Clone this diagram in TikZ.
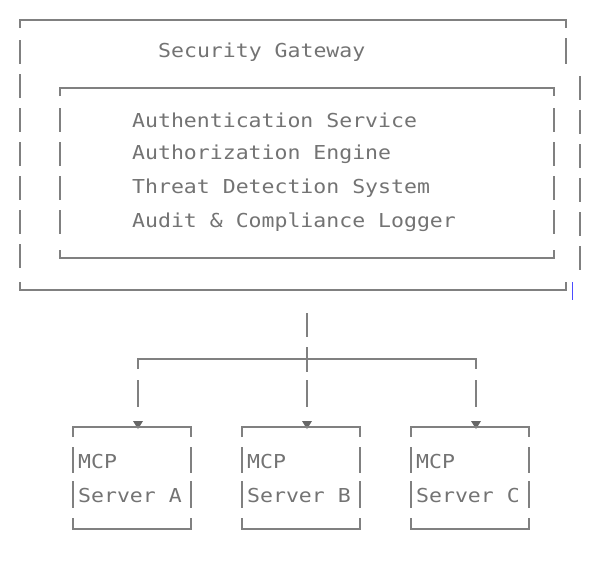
\documentclass[tikz,border=0pt]{standalone}
\usepackage{fontspec}
\setmonofont[FakeStretch=1.12]{DejaVu Sans Mono}
\begin{document}
\begin{tikzpicture}[x=1pt,y=-1pt,
  ln/.style={draw=black!50,line width=1.3pt},
  vd/.style={ln,dash pattern=on 24pt off 10pt,dash phase=-4pt},
  tx/.style={text=black!55,font=\ttfamily\fontsize{19.2}{22}\selectfont,anchor=west,inner sep=0pt},
  tip/.style={fill=black!60,inset sep=0pt}]
\useasboundingbox (0,0) rectangle (609,560);
% outer box
\draw[ln] (20,28) -- (20,20) -- (566,20) -- (566,28);
\draw[vd] (20,36) -- (20,272);
\draw[ln] (566,38) -- (566,64);
\draw[ln] (20,282) -- (20,290) -- (566,290) -- (566,282);
\draw[vd] (580,72) -- (580,272);
\draw[blue!70,line width=0.8pt] (572,282) -- (572,300);
\node[tx] (title) at (158,52) {Security Gateway};
% inner box
\draw[ln] (60,96) -- (60,88) -- (554,88) -- (554,96);
\draw[vd] (60,104) -- (60,240);
\draw[vd] (554,104) -- (554,240);
\draw[ln] (60,250) -- (60,258) -- (554,258) -- (554,250);
\node[tx] (a1) at (132,120) {Authentication Service};
\node[tx] (a2) at (132,154) {Authorization Engine};
\node[tx] (a3) at (132,188) {Threat Detection System};
\node[tx] (a4) at (132,222) {Audit \& Compliance Logger};
% connectors
\draw[ln] (307,313) -- (307,337);
\draw[ln] (307,347) -- (307,372);
\draw[ln] (307,380) -- (307,407);
\draw[ln] (138,369) -- (138,359) -- (476,359) -- (476,369);
\foreach \x in {138,476} \draw[ln] (\x,380) -- (\x,407);
\foreach \x in {138,307,476}{
  \fill[black!60] (\x-5,421) -- (\x+5,421) -- (\x,429) -- cycle;
}
% servers
\foreach \l/\n in {73/A,242/B,411/C}{
  \draw[ln] (\l,437) -- (\l,427) -- (\l+118,427) -- (\l+118,437);
  \draw[ln] (\l,447) -- (\l,473); \draw[ln] (\l+118,447) -- (\l+118,473);
  \draw[ln] (\l,481) -- (\l,508); \draw[ln] (\l+118,481) -- (\l+118,508);
  \draw[ln] (\l,518) -- (\l,529) -- (\l+118,529) -- (\l+118,518);
  \node[tx] (m\n) at (\l+5,461) {MCP};
  \node[tx] (s\n) at (\l+5,495) {Server \n};
}
\end{tikzpicture}
\end{document}
